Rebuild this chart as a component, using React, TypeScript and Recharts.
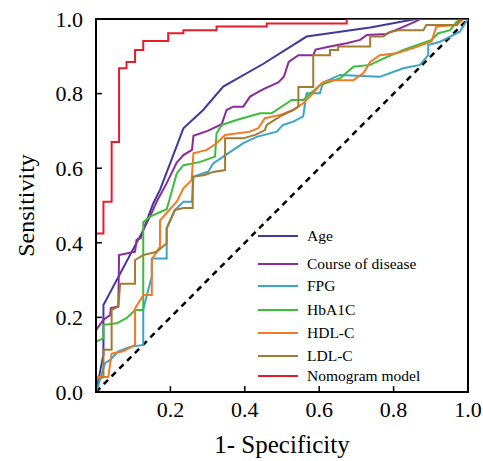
import React from 'react';
import { LineChart, Line, XAxis, YAxis, ReferenceArea, Legend } from 'recharts';

const FONT = "'Liberation Serif', 'DejaVu Serif', serif";

const xTicks = [0.2, 0.4, 0.6, 0.8, 1.0];
const yTicks = [0, 0.2, 0.4, 0.6, 0.8, 1.0];

// [1 - specificity, sensitivity]
const ageRoc = [
  [0, 0], [0.012, 0.06], [0.02, 0.1], [0.02, 0.233], [0.127, 0.434], [0.154, 0.506],
  [0.172, 0.542], [0.2, 0.615], [0.235, 0.707], [0.288, 0.756], [0.342, 0.819],
  [0.45, 0.88], [0.566, 0.953], [0.737, 0.977], [0.86, 1], [1, 1],
];

const courseRoc = [
  [0, 0], [0, 0.166], [0.02, 0.194], [0.038, 0.206], [0.04, 0.225], [0.06, 0.229],
  [0.062, 0.367], [0.105, 0.376], [0.109, 0.408], [0.12, 0.412], [0.127, 0.434],
  [0.145, 0.47], [0.163, 0.51], [0.19, 0.56], [0.217, 0.615], [0.235, 0.635],
  [0.258, 0.649], [0.262, 0.687], [0.3, 0.7], [0.338, 0.718], [0.351, 0.756],
  [0.369, 0.765], [0.396, 0.765], [0.414, 0.792], [0.45, 0.812], [0.49, 0.83],
  [0.505, 0.845], [0.518, 0.885], [0.544, 0.903], [0.584, 0.903], [0.59, 0.918],
  [0.629, 0.926], [0.674, 0.935], [0.71, 0.944], [0.728, 0.957], [0.78, 0.96],
  [0.817, 0.975], [0.858, 0.993], [0.871, 1], [1, 1],
];

const fpgRoc = [
  [0, 0], [0.005, 0.014], [0.024, 0.077], [0.038, 0.086], [0.06, 0.109], [0.091, 0.121],
  [0.127, 0.126], [0.127, 0.222], [0.15, 0.31], [0.15, 0.358], [0.19, 0.358],
  [0.19, 0.439], [0.212, 0.488], [0.235, 0.51], [0.258, 0.51], [0.262, 0.577],
  [0.302, 0.591], [0.315, 0.613], [0.342, 0.631], [0.396, 0.667], [0.432, 0.684],
  [0.486, 0.698], [0.503, 0.716], [0.53, 0.725], [0.557, 0.739], [0.566, 0.801],
  [0.602, 0.801], [0.61, 0.83], [0.656, 0.85], [0.763, 0.845], [0.826, 0.868],
  [0.871, 0.877], [0.893, 0.903], [0.893, 0.93], [0.925, 0.939], [0.952, 0.953],
  [0.978, 0.966], [1, 1],
];

const hba1cRoc = [
  [0, 0], [0, 0.135], [0.02, 0.144], [0.02, 0.18], [0.056, 0.184], [0.082, 0.198],
  [0.105, 0.22], [0.127, 0.22], [0.127, 0.455], [0.145, 0.47], [0.19, 0.49],
  [0.2, 0.525], [0.217, 0.586], [0.235, 0.608], [0.28, 0.617], [0.32, 0.631],
  [0.324, 0.693], [0.338, 0.716], [0.38, 0.73], [0.441, 0.747], [0.472, 0.747],
  [0.526, 0.783], [0.557, 0.783], [0.602, 0.823], [0.656, 0.841], [0.692, 0.872],
  [0.737, 0.877], [0.772, 0.894], [0.826, 0.917], [0.902, 0.944], [0.92, 0.962],
  [0.952, 0.97], [0.97, 0.993], [0.987, 1], [1, 1],
];

const hdlRoc = [
  [0, 0], [0, 0.04], [0.033, 0.04], [0.042, 0.103], [0.073, 0.109], [0.105, 0.126],
  [0.105, 0.224], [0.127, 0.26], [0.15, 0.26], [0.15, 0.355], [0.172, 0.39],
  [0.172, 0.46], [0.19, 0.48], [0.217, 0.51], [0.235, 0.546], [0.257, 0.568],
  [0.262, 0.64], [0.298, 0.649], [0.324, 0.667], [0.347, 0.689], [0.414, 0.698],
  [0.436, 0.707], [0.454, 0.734], [0.495, 0.743], [0.53, 0.756], [0.557, 0.774],
  [0.575, 0.792], [0.607, 0.828], [0.629, 0.836], [0.692, 0.836], [0.719, 0.855],
  [0.737, 0.885], [0.763, 0.903], [0.808, 0.908], [0.853, 0.922], [0.902, 0.94],
  [0.915, 0.98], [0.97, 0.984], [0.987, 1], [1, 1],
];

const ldlRoc = [
  [0, 0], [0, 0.032], [0.02, 0.04], [0.02, 0.113], [0.042, 0.113], [0.042, 0.22],
  [0.06, 0.229], [0.065, 0.29], [0.105, 0.29], [0.105, 0.354], [0.127, 0.367],
  [0.163, 0.376], [0.19, 0.399], [0.19, 0.439], [0.212, 0.488], [0.235, 0.493],
  [0.26, 0.493], [0.26, 0.577], [0.293, 0.582], [0.315, 0.59], [0.347, 0.595],
  [0.347, 0.68], [0.396, 0.68], [0.43, 0.69], [0.454, 0.702], [0.459, 0.716],
  [0.495, 0.739], [0.53, 0.756], [0.544, 0.765], [0.544, 0.818], [0.584, 0.818],
  [0.584, 0.903], [0.629, 0.903], [0.629, 0.917], [0.651, 0.917], [0.651, 0.926],
  [0.737, 0.926], [0.737, 0.953], [0.772, 0.953], [0.79, 0.965], [0.813, 0.97],
  [0.88, 0.97], [0.888, 0.984], [0.97, 0.984], [0.978, 1], [1, 1],
];

const nomogramRoc = [
  [0, 0], [0, 0.425], [0.02, 0.425], [0.02, 0.51], [0.042, 0.51], [0.042, 0.67],
  [0.062, 0.67], [0.062, 0.868], [0.082, 0.868], [0.082, 0.885], [0.105, 0.885],
  [0.105, 0.917], [0.127, 0.917], [0.127, 0.941], [0.194, 0.941], [0.194, 0.962],
  [0.235, 0.962], [0.235, 0.97], [0.324, 0.97], [0.324, 0.98], [0.459, 0.98],
  [0.459, 0.988], [0.674, 0.988], [0.674, 1], [1, 1],
];

const reference = [[0, 0], [1, 1]];

const series = [
  { name: 'Age', color: '#3d3a9a', points: ageRoc },
  { name: 'Course of disease', color: '#8a2a9c', points: courseRoc },
  { name: 'FPG', color: '#3aa4c9', points: fpgRoc },
  { name: 'HbA1C', color: '#3cbd3a', points: hba1cRoc },
  { name: 'HDL-C', color: '#f27a26', points: hdlRoc },
  { name: 'LDL-C', color: '#a27a32', points: ldlRoc },
  { name: 'Nomogram model', color: '#e51d2b', points: nomogramRoc },
];

// vertical offsets of legend rows (the original spacing is a bit uneven)
const legendRowOffsets = [0, 28, 50, 74, 97, 120, 140];

const toRows = (pts: number[][]) => pts.map(([x, y]) => ({ x, y }));

const renderLegend = () => (
  <div style={{ position: 'relative', height: 160, fontFamily: FONT, fontSize: 15.5, color: '#000' }}>
    {series.map((s, i) => (
      <div
        key={s.name}
        style={{ position: 'absolute', left: 0, top: legendRowOffsets[i], display: 'flex', alignItems: 'center', height: 20, whiteSpace: 'nowrap' }}
      >
        <svg width={40} height={4} style={{ marginRight: 9 }}>
          <line x1={0} y1={2} x2={40} y2={2} stroke={s.color} strokeWidth={2} />
        </svg>
        <span>{s.name}</span>
      </div>
    ))}
  </div>
);

const tickStyle = { fill: '#000', fontSize: 22, fontFamily: FONT };

export default function App() {
  return (
    <div style={{ position: 'absolute', left: 0, top: 0, width: 483, height: 461, background: '#fff', fontFamily: FONT }}>
      <LineChart width={483} height={461} margin={{ top: 19, right: 15, bottom: 0, left: 0 }}>
        <XAxis
          dataKey="x"
          type="number"
          domain={[0, 1]}
          ticks={xTicks}
          interval={0}
          allowDataOverflow
          tickFormatter={(v: number) => v.toFixed(1)}
          tick={tickStyle}
          tickSize={-6}
          tickMargin={15}
          tickLine={{ stroke: '#000', strokeWidth: 1.5 }}
          axisLine={{ stroke: '#000', strokeWidth: 2 }}
          height={69}
          label={{ value: '1- Specificity', position: 'insideBottom', offset: 8, style: { fontSize: 25, fontFamily: FONT, fill: '#000' } }}
        />
        <YAxis
          dataKey="y"
          type="number"
          domain={[0, 1]}
          ticks={yTicks}
          interval={0}
          allowDataOverflow
          tickFormatter={(v: number) => v.toFixed(1)}
          tick={tickStyle}
          tickSize={-6}
          tickMargin={19}
          tickLine={{ stroke: '#000', strokeWidth: 1.5 }}
          axisLine={{ stroke: '#000', strokeWidth: 2 }}
          width={96}
          label={{ value: 'Sensitivity', angle: -90, position: 'insideLeft', offset: 25, style: { textAnchor: 'middle', fontSize: 24, fontFamily: FONT, fill: '#000' } }}
        />
        <ReferenceArea x1={0} x2={1} y1={0} y2={1} fill="none" stroke="#000" strokeWidth={2} />
        <Line
          data={toRows(reference)}
          dataKey="y"
          type="linear"
          stroke="#000"
          strokeWidth={2.5}
          strokeDasharray="6 5"
          dot={false}
          legendType="none"
          isAnimationActive={false}
        />
        {series.map(s => (
          <Line
            key={s.name}
            name={s.name}
            data={toRows(s.points)}
            dataKey="y"
            type="linear"
            stroke={s.color}
            strokeWidth={2}
            dot={false}
            isAnimationActive={false}
          />
        ))}
        <Legend
          layout="vertical"
          align="center"
          verticalAlign="middle"
          content={renderLegend}
          wrapperStyle={{ left: 258, top: 226, width: 210 }}
        />
      </LineChart>
    </div>
  );
}
